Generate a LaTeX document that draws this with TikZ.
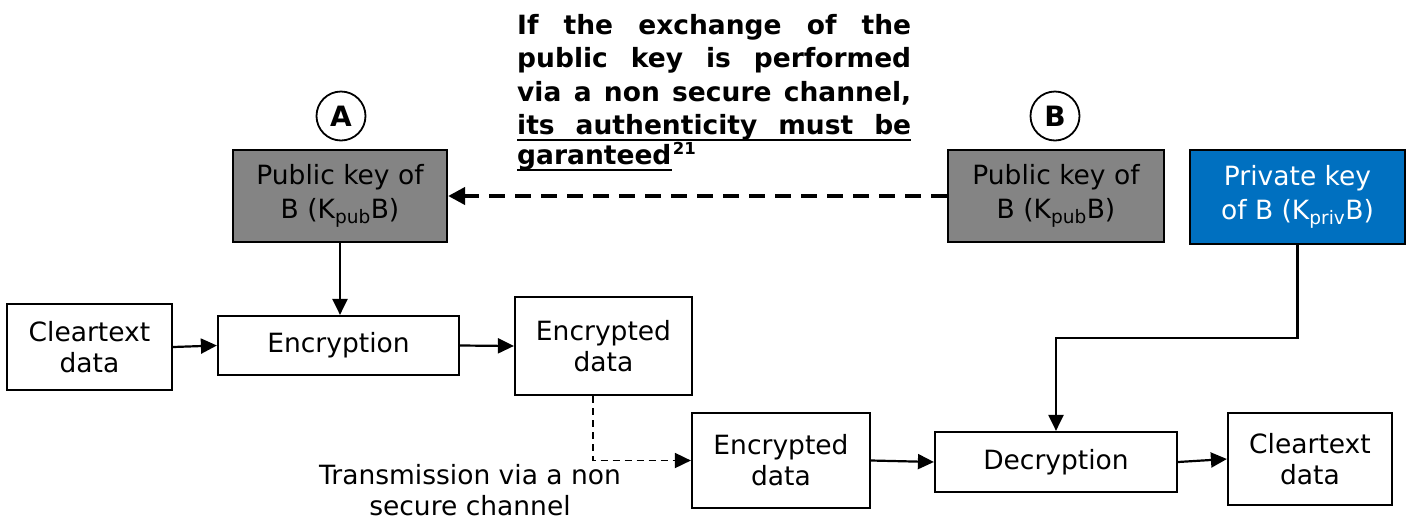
\documentclass[tikz,border=0pt]{standalone}
\usepackage{fontspec}
\setmainfont{DejaVu Sans}
\usetikzlibrary{arrows.meta}
\definecolor{keyblue}{RGB}{0,112,192}
\definecolor{keygray}{RGB}{132,132,132}
\begin{document}
\begin{tikzpicture}[x=1pt,y=-1pt,
  box/.style={draw=black, line width=2.2pt, inner sep=0pt, align=center, font=\fontsize{26.5}{31}\selectfont},
  keybox/.style={box, fill=keygray, font=\fontsize{26.5}{34}\selectfont},
  privbox/.style={box, fill=keyblue, text=white, font=\fontsize{26.5}{34}\selectfont},
  lbl/.style={draw=black, line width=1.8pt, circle, minimum size=49pt, inner sep=0pt, font=\bfseries\fontsize{28}{30}\selectfont},
  conn/.style={line width=2.2pt, -{Triangle[length=16pt,width=15pt]}},
  thickdash/.style={line width=4pt, dash pattern=on 16pt off 10pt, -{Triangle[length=17pt,width=17pt]}},
  thindash/.style={line width=1.8pt, dash pattern=on 7pt off 5pt, -{Triangle[length=16pt,width=15pt]}},
  boldtxt/.style={inner sep=0pt, font=\bfseries\fontsize{26.5}{33}\selectfont},
  plaintxt/.style={inner sep=0pt, align=center, font=\fontsize{26.5}{31}\selectfont}
]
\useasboundingbox (0,0) rectangle (1409,523);

% labels A and B
\node[lbl] (cA) at (341,116) {A};
\node[lbl] (cB) at (1055,116) {B};

% key boxes
\node[keybox, minimum width=214pt, minimum height=92pt] (pubA) at (340,196) {Public key of\\B (K\textsubscript{pub}B)};
\node[keybox, minimum width=216pt, minimum height=92pt] (pubB) at (1056,196) {Public key of\\B (K\textsubscript{pub}B)};
\node[privbox, minimum width=215pt, minimum height=94pt] (priv) at (1297.5,197) {Private key\\of B (K\textsubscript{priv}B)};

% process boxes
\node[box, minimum width=165pt, minimum height=86pt] (ctL) at (89.5,347) {Cleartext\\data};
\node[box, minimum width=241pt, minimum height=59pt] (enc) at (338.5,345.5) {Encryption};
\node[box, minimum width=177pt, minimum height=98pt] (ed1) at (603.5,346) {Encrypted\\data};
\node[box, minimum width=178pt, minimum height=95pt] (ed2) at (781,460.5) {Encrypted\\data};
\node[box, minimum width=242pt, minimum height=60pt] (dec) at (1056,462) {Decryption};
\node[box, minimum width=164pt, minimum height=92pt] (ctR) at (1310,459) {Cleartext\\data};

% bold note
\node[boldtxt, anchor=base west] (l1) at (517,34) {\makebox[394pt][s]{If the exchange of the}};
\node[boldtxt, anchor=base west] (l2) at (517,67) {\makebox[394pt][s]{public key is performed}};
\node[boldtxt, anchor=base west] (l3) at (517,101) {\makebox[394pt][s]{via a non secure channel,}};
\node[boldtxt, anchor=base west] (l4) at (517,134) {\makebox[394pt][s]{its authenticity must be}};
\node[boldtxt, anchor=base west] (l5) at (517,164) {garanteed};
\node[inner sep=0pt, anchor=base west, font=\bfseries\fontsize{16.5}{16}\selectfont] (sup) at ([xshift=1pt,yshift=10pt]l5.base east) {21};
\draw[line width=2.6pt] ([yshift=-6pt]l4.base west) -- ([yshift=-6pt]l4.base east);
\draw[line width=2.6pt] ([yshift=-6pt]l5.base west) -- ([yshift=-6pt]l5.base east);

% transmission text
\node[plaintxt] (trans) at (470,490) {Transmission via a non\\secure channel};

% connectors
\draw[thickdash] (pubB.west) -- (pubA.east);
\draw[conn] (pubA.south) -- (pubA.south |- enc.north);
\draw[conn] (ctL.east) -- (enc.west);
\draw[conn] (enc.east) -- (ed1.west);
\coordinate (tx) at ([xshift=-10.5pt]ed1.south);
\draw[thindash] (tx) |- (ed2.west);
\draw[conn] (ed2.east) -- (dec.west);
\draw[conn] (dec.east) -- (ctR.west);
\coordinate (bend) at (1297.5,338);
\draw[conn] (priv.south) -- (bend) -- (bend -| dec.north) -- (dec.north);
\end{tikzpicture}
\end{document}
